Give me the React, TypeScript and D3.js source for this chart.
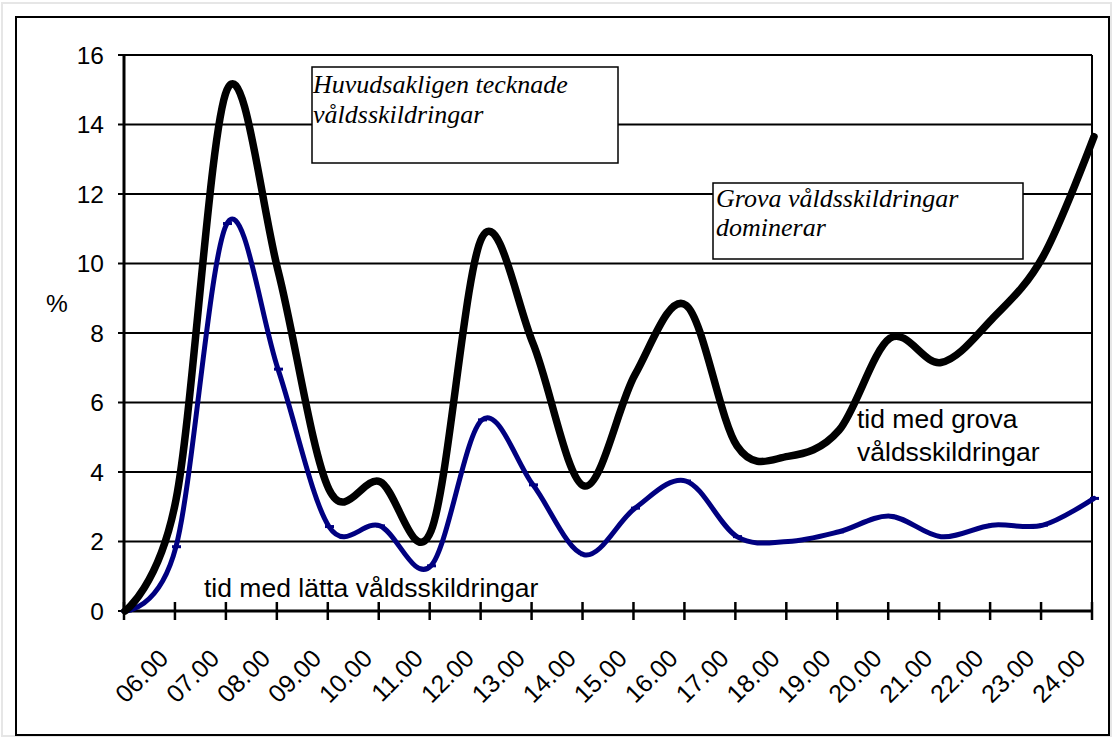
import React from "react";
import * as d3 from "d3";

// x-axis tick labels (hours)
const tickLabels = [
  "06.00", "07.00", "08.00", "09.00", "10.00", "11.00", "12.00", "13.00", "14.00", "15.00",
  "16.00", "17.00", "18.00", "19.00", "20.00", "21.00", "22.00", "23.00", "24.00",
];
// 20 measurement points along the day
const pointIndex = d3.range(20);
// black: tid med grova våldsskildringar
const grova = [0, 3.2, 15.0, 9.8, 3.5, 3.72, 2.3, 10.75, 7.7, 3.6, 6.8, 8.8, 4.75, 4.45, 5.2, 7.85, 7.15, 8.4, 10.2, 13.65];
// blue: tid med lätta våldsskildringar
const latta = [0, 1.85, 11.15, 6.96, 2.43, 2.45, 1.3, 5.5, 3.63, 1.62, 2.96, 3.74, 2.14, 2.0, 2.28, 2.73, 2.14, 2.47, 2.47, 3.24];
const yTicks = [0, 2, 4, 6, 8, 10, 12, 14, 16];

const W = 1113, H = 738;
const left = 124, right = 1092, top = 55, bottom = 611;

export default function App() {
  const xTick = d3.scalePoint<number>().domain(pointIndex).range([left, right]);
  const xData = d3.scalePoint<number>().domain(pointIndex).range([left + 1, right + 2]);
  const y = d3.scaleLinear().domain([0, 16]).range([bottom, top]);

  const line = d3
    .line<number>()
    .x((_, i) => xData(i) as number)
    .y((d) => y(d))
    .curve(d3.curveCardinal.tension(0));

  const sans = "'Liberation Sans', Arial, sans-serif";
  const serif = "'Liberation Serif', 'Times New Roman', serif";

  return (
    <div style={{ position: "absolute", left: 0, top: 0 }}>
      <svg width={W} height={H} style={{ display: "block", background: "#fff" }}>
        <rect x={2} y={3} width={W - 4} height={H - 5} fill="none" stroke="#e6e6e6" strokeWidth={2} />
        <rect x={16} y={17} width={1093} height={718} fill="#fff" stroke="#000" strokeWidth={2} />

        {/* gridlines */}
        {yTicks.map((t) => (
          <g key={"g" + t}>
            {t > 0 && <line x1={left} x2={right} y1={y(t)} y2={y(t)} stroke="#000" strokeWidth={2} />}
            <line x1={left - 6} x2={left} y1={y(t)} y2={y(t)} stroke="#000" strokeWidth={2} />
            <text
              x={104}
              y={y(t)}
              dy="0.36em"
              textAnchor="end"
              fontFamily={sans}
              fontSize={24.5}
              fill="#000"
            >
              {t}
            </text>
          </g>
        ))}
        {/* right border of plot */}
        <line x1={right} x2={right} y1={top} y2={bottom} stroke="#000" strokeWidth={2} />
        {/* y axis */}
        <line x1={left} x2={left} y1={top} y2={bottom + 1} stroke="#000" strokeWidth={3} />
        <text x={57} y={303} dy="0.36em" textAnchor="middle" fontFamily={sans} fontSize={24.5}>
          %
        </text>

        {/* x axis */}
        <line x1={left} x2={right + 1} y1={bottom} y2={bottom} stroke="#000" strokeWidth={3} />
        {pointIndex.map((i) => (
          <line
            key={"t" + i}
            x1={xTick(i)}
            x2={xTick(i)}
            y1={bottom - 9}
            y2={bottom + 9}
            stroke="#000"
            strokeWidth={2.5}
          />
        ))}
        {tickLabels.map((lab, i) => {
          const ax = (xTick(i + 1) as number) - 5;
          const ay = 660;
          return (
            <text
              key={"l" + i}
              transform={`translate(${ax},${ay}) rotate(-45)`}
              textAnchor="end"
              fontFamily={sans}
              fontSize={25}
              fill="#000"
            >
              {lab}
            </text>
          );
        })}

        {/* series */}
        <path d={line(latta) || ""} fill="none" stroke="#000080" strokeWidth={5} strokeLinejoin="round" strokeLinecap="round" />
        {latta.map((v, i) => (
          <rect
            key={"m" + i}
            x={(xData(i) as number) - 4}
            y={y(v) - 1.5}
            width={9}
            height={3}
            fill="#000080"
          />
        ))}
        <path d={line(grova) || ""} fill="none" stroke="#000" strokeWidth={7.5} strokeLinejoin="round" strokeLinecap="round" />

        {/* annotations */}
        <text x={204} y={597} fontFamily={sans} fontSize={26.5} fill="#000">
          tid med lätta våldsskildringar
        </text>
        <text x={857} y={428} fontFamily={sans} fontSize={26.5} fill="#000">
          tid med grova
        </text>
        <text x={857} y={461} fontFamily={sans} fontSize={26.5} fill="#000">
          våldsskildringar
        </text>

        <rect x={312} y={67} width={306} height={96} fill="#fff" stroke="#000" strokeWidth={1.5} />
        <text x={313} y={93} fontFamily={serif} fontStyle="italic" fontSize={26} fill="#000">
          Huvudsakligen tecknade
        </text>
        <text x={313} y={123} fontFamily={serif} fontStyle="italic" fontSize={26} fill="#000">
          våldsskildringar
        </text>

        <rect x={713} y={183} width={310} height={76} fill="#fff" stroke="#000" strokeWidth={1.5} />
        <text x={716} y={207} fontFamily={serif} fontStyle="italic" fontSize={26} fill="#000">
          Grova våldsskildringar
        </text>
        <text x={716} y={236} fontFamily={serif} fontStyle="italic" fontSize={26} fill="#000">
          dominerar
        </text>
      </svg>
    </div>
  );
}
